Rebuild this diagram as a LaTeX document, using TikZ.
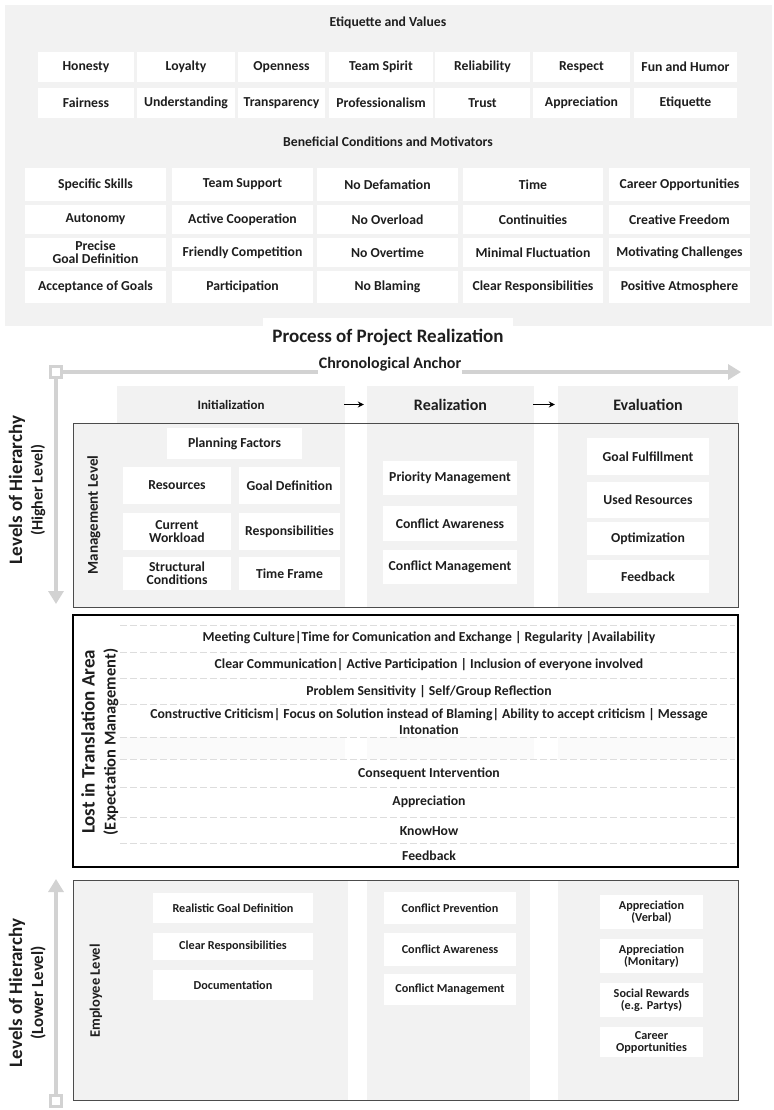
\documentclass[tikz,border=0pt]{standalone}
\usepackage{fontspec}
\setmainfont{Carlito}
\usetikzlibrary{arrows.meta}
\definecolor{panel}{HTML}{F2F2F2}
\definecolor{faint}{HTML}{FAFAFA}
\definecolor{agrey}{HTML}{D2D2D2}
\definecolor{ink}{HTML}{1E1E1E}
\definecolor{dline}{HTML}{DDDDDD}
\newcommand{\fsz}[1]{\fontsize{#1}{#1}\selectfont\bfseries}
\tikzset{
  item/.style={fill=white, inner sep=0pt, align=center, text=ink, font=\fontsize{13.7}{15}\selectfont\bfseries},
  smallitem/.style={item, font=\fontsize{12.2}{14}\selectfont\bfseries},
  hdr/.style={fill=panel, inner sep=0pt, align=center, text=ink},
  sect/.style={text=ink, font=\fontsize{13.7}{15}\selectfont\bfseries},
  ltxt/.style={text=ink, align=center, font=\fontsize{13.7}{16}\selectfont\bfseries},
  rlab/.style={rotate=90, text=ink, align=center},
  greyarrow/.style={draw=agrey, line width=4pt, -{Triangle[length=13pt,width=15pt]}},
  sqbox/.style={draw=agrey, line width=3pt, fill=white, minimum size=11pt, inner sep=0pt},
  phasearrow/.style={draw=black, line width=1pt, -{Stealth[length=6pt,width=6pt]}},
  dline/.style={draw=dline, dash pattern=on 7pt off 3pt, line width=0.8pt},
}
\newcommand{\mybox}[6]{\node[item, minimum width={(#4-#2)*1pt}, minimum height={(#5-#3)*1pt}] (#1) at ({(#2+#4)/2},{(#3+#5)/2}) {#6};}
\newcommand{\mysbox}[6]{\node[smallitem, minimum width={(#4-#2)*1pt}, minimum height={(#5-#3)*1pt}] (#1) at ({(#2+#4)/2},{(#3+#5)/2}) {#6};}
\newcommand{\myhdr}[7]{\node[hdr, minimum width={(#4-#2)*1pt}, minimum height={(#5-#3)*1pt}, font=#6] (#1) at ({(#2+#4)/2},{(#3+#5)/2}) {#7};}
\begin{document}
\begin{tikzpicture}[x=1pt,y=-1pt]
\useasboundingbox (0,0) rectangle (773,1110);
% ---------- top panel ----------
\fill[panel] (5,5) rectangle (772,326);
\fill[white] (263,318) rectangle (513,348);
\node[sect] (etvt) at (388,23) {Etiquette and Values};
\mybox{v1}{38}{52}{134}{82}{Honesty}
\mybox{v2}{137}{52}{235}{82}{Loyalty}
\mybox{v3}{238}{52}{325}{82}{Openness}
\mybox{v4}{329}{52}{433}{82}{Team Spirit}
\mybox{v5}{435}{52}{530}{82}{Reliability}
\mybox{v6}{533}{52}{630}{82}{Respect}
\mybox{v7}{634}{52}{737}{82}{Fun and Humor}
\mybox{w1}{38}{88}{134}{118}{Fairness}
\mybox{w2}{137}{88}{235}{118}{Understanding}
\mybox{w3}{238}{88}{325}{118}{Transparency}
\mybox{w4}{329}{88}{433}{118}{Professionalism}
\mybox{w5}{435}{88}{530}{118}{Trust}
\mybox{w6}{533}{88}{630}{118}{Appreciation}
\mybox{w7}{634}{88}{737}{118}{Etiquette}
\node[sect] (bcmt) at (388,142) {Beneficial Conditions and Motivators};
\mybox{b11}{25}{168}{166}{201}{Specific Skills}
\mybox{b12}{172}{168}{313}{201}{Team Support}
\mybox{b13}{317}{168}{458}{201}{No Defamation}
\mybox{b14}{463}{168}{603}{201}{Time}
\mybox{b15}{609}{168}{750}{201}{Career Opportunities}
\mybox{b21}{25}{205}{166}{234}{Autonomy}
\mybox{b22}{172}{205}{313}{234}{Active Cooperation}
\mybox{b23}{317}{205}{458}{234}{No Overload}
\mybox{b24}{463}{205}{603}{234}{Continuities}
\mybox{b25}{609}{205}{750}{234}{Creative Freedom}
\mybox{b31}{25}{238}{166}{267}{Precise\\[-2pt]Goal Definition}
\mybox{b32}{172}{238}{313}{267}{Friendly Competition}
\mybox{b33}{317}{238}{458}{267}{No Overtime}
\mybox{b34}{463}{238}{603}{267}{Minimal Fluctuation}
\mybox{b35}{609}{238}{750}{267}{Motivating Challenges}
\mybox{b41}{25}{271}{166}{303}{Acceptance of Goals}
\mybox{b42}{172}{271}{313}{303}{Participation}
\mybox{b43}{317}{271}{458}{303}{No Blaming}
\mybox{b44}{463}{271}{603}{303}{Clear Responsibilities}
\mybox{b45}{609}{271}{750}{303}{Positive Atmosphere}
% ---------- process title ----------
\node[text=ink, font=\fsz{19}] (proct) at (388,337) {Process of Project Realization};
\node[sqbox] (sqtop) at (56,372) {};
\coordinate (chronoend) at (741,372);
\coordinate (downend) at (56,604);
\draw[greyarrow] (sqtop.east) -- (chronoend);
\draw[greyarrow] (sqtop.south) -- (downend);
\node[text=ink, font=\fsz{16}, fill=white, inner xsep=1pt, inner ysep=4pt, anchor=base] (chrono) at (390,368) {Chronological Anchor};
% ---------- phase headers ----------
\myhdr{ini}{117}{386}{345}{423}{\fsz{13}}{Initialization}
\myhdr{rea}{367}{386}{534}{423}{\fsz{16}}{Realization}
\myhdr{eva}{558}{386}{738}{423}{\fsz{16}}{Evaluation}
\draw[phasearrow] ([xshift=-1pt]ini.east) -- ([xshift=-3pt]rea.west);
\draw[phasearrow] ([xshift=-1pt]rea.east) -- ([xshift=-3pt]eva.west);
% ---------- management level ----------
\fill[panel] (73,423) rectangle (345,607);
\fill[panel] (367,423) rectangle (534,607);
\fill[panel] (558,423) rectangle (738,607);
\draw[draw=black!70, line width=0.9pt] (73,423) rectangle (738,607);
\node[rlab, font=\fsz{19}] (lh1) at (17,490) {Levels of Hierarchy};
\node[rlab, font=\fsz{16}] (lh2) at (38,490) {(Higher Level)};
\node[rlab, font=\fsz{15}] (mgl) at (94,515) {Management Level};
\mybox{pf}{167}{428}{302}{459}{Planning Factors}
\mybox{m11}{123}{467}{231}{504}{Resources}
\mybox{m12}{239}{467}{340}{504}{Goal Definition}
\mybox{m21}{123}{513}{231}{550}{Current\\[-2pt]Workload}
\mybox{m22}{239}{513}{340}{550}{Responsibilities}
\mybox{m31}{123}{557}{231}{590}{Structural\\[-2pt]Conditions}
\mybox{m32}{239}{557}{340}{590}{Time Frame}
\mybox{r1}{383}{461}{517}{495}{Priority Management}
\mybox{r2}{383}{506}{517}{541}{Conflict Awareness}
\mybox{r3}{383}{550}{517}{584}{Conflict Management}
\mybox{e1}{587}{438}{709}{475}{Goal Fulfillment}
\mybox{e2}{587}{482}{709}{518}{Used Resources}
\mybox{e3}{587}{522}{709}{555}{Optimization}
\mybox{e4}{587}{560}{709}{593}{Feedback}
% ---------- lost in translation ----------
\fill[white] (73,615) rectangle (738,867);
\fill[faint] (120,737) rectangle (345,759);
\fill[faint] (367,737) rectangle (534,759);
\fill[faint] (558,737) rectangle (735,759);
\foreach \yy in {625,652,678,704,737,759,787,817,843}{
  \draw[dline] (120,\yy) -- (735,\yy);
}
\draw[draw=black, line width=1.8pt] (73,615) rectangle (738,867);
\node[rlab, font=\fsz{19}] (lta) at (88,742) {Lost in Translation Area};
\node[rlab, font=\fsz{16.5}] (ltb) at (111,742) {(Expectation Management)};
\node[ltxt] (t1) at (429,638) {Meeting Culture|Time for Comunication and Exchange | Regularity |Availability};
\node[ltxt] (t2) at (429,665) {Clear Communication| Active Participation | Inclusion of everyone involved};
\node[ltxt] (t3) at (429,692) {Problem Sensitivity | Self/Group Reflection};
\node[ltxt] (t4) at (429,722) {Constructive Criticism| Focus on Solution instead of Blaming| Ability to accept criticism | Message\\Intonation};
\node[ltxt] (t5) at (429,774) {Consequent Intervention};
\node[ltxt] (t6) at (429,802) {Appreciation};
\node[ltxt] (t7) at (429,831) {KnowHow};
\node[ltxt] (t8) at (429,856) {Feedback};
% ---------- employee level ----------
\fill[panel] (73,880) rectangle (348,1100);
\fill[panel] (367,880) rectangle (530,1100);
\fill[panel] (558,880) rectangle (738,1100);
\draw[draw=black!70, line width=0.9pt] (73,880) rectangle (738,1100);
\node[sqbox] (sqbot) at (56,1101) {};
\coordinate (upend) at (56,879);
\draw[greyarrow] (sqbot.north) -- (upend);
\node[rlab, font=\fsz{19}] (ll1) at (17,993) {Levels of Hierarchy};
\node[rlab, font=\fsz{17}] (ll2) at (38,993) {(Lower Level)};
\node[rlab, font=\fsz{14.5}] (eml) at (96,991) {Employee Level};
\mysbox{p1}{153}{893}{313}{923}{Realistic Goal Definition}
\mysbox{p2}{153}{933}{313}{960}{Clear Responsibilities}
\mysbox{p3}{153}{970}{313}{1000}{Documentation}
\mysbox{q1}{384}{892}{516}{924}{Conflict Prevention}
\mysbox{q2}{384}{933}{516}{966}{Conflict Awareness}
\mysbox{q3}{384}{974}{516}{1005}{Conflict Management}
\mysbox{s1}{600}{895}{703}{929}{Appreciation\\[-2pt](Verbal)}
\mysbox{s2}{600}{939}{703}{973}{Appreciation\\[-2pt](Monitary)}
\mysbox{s3}{600}{983}{703}{1017}{Social Rewards\\[-2pt](e.g. Partys)}
\mysbox{s4}{600}{1027}{703}{1057}{Career\\[-2pt]Opportunities}
\end{tikzpicture}
\end{document}
